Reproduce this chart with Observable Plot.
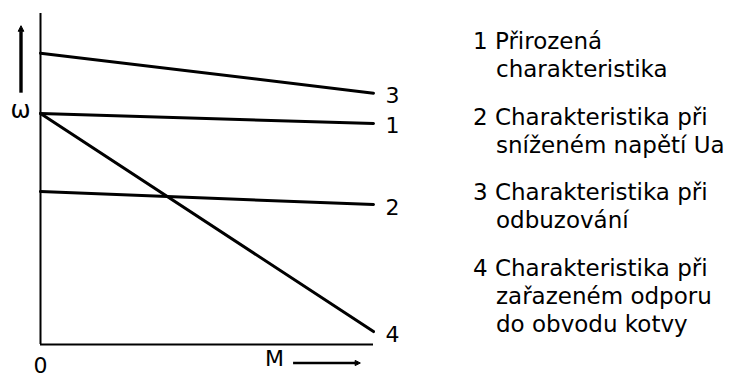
<!DOCTYPE html>
<html>
<head>
<meta charset="utf-8">
<script src="https://cdn.jsdelivr.net/npm/d3@7"></script>
<script src="https://cdn.jsdelivr.net/npm/@observablehq/plot@0.6"></script>
<style>
  body { margin: 0; background: #fff; }
  #chart { position: relative; width: 736px; height: 376px; font-family: "DejaVu Sans", sans-serif; color: #000; }
  #chart svg { position: absolute; left: 0; top: 0; }
  #legend { position: absolute; left: 473px; top: 27px; font-size: 23px; line-height: 28.3px; }
  #legend .entry { margin-bottom: 19px; white-space: nowrap; }
  #legend .cont { padding-left: 23px; }
</style>
</head>
<body>
<div id="chart"><div id="legend"></div></div>
<script>
// Motor speed–torque characteristics (ω versus M), straight lines from M = 0 to M = max
const torque = [0, 1];
const curveIds = ["1", "2", "3", "4"];
const omegaNoLoad = [1.0, 0.662, 1.261, 1.0];
const omegaFullLoad = [0.957, 0.606, 1.088, 0.056];
const omegaAxisTop = 1.433;
const xTickLabels = ["0"];
const xAxisLabel = "M";
const yAxisLabel = "ω";
const legendLines = [
  ["1 Přirozená", "charakteristika"],
  ["2 Charakteristika při", "sníženém napětí Ua"],
  ["3 Charakteristika při", "odbuzování"],
  ["4 Charakteristika při", "zařazeném odporu", "do obvodu kotvy"]
];

const points = curveIds.flatMap((id, i) => [
  {id, M: torque[0], w: omegaNoLoad[i]},
  {id, M: torque[1], w: omegaFullLoad[i]}
]);
const ends = points.filter(d => d.M === torque[1]);

const plot = Plot.plot({
  width: 736,
  height: 376,
  marginLeft: 40,
  marginRight: 363,
  marginTop: 13,
  marginBottom: 32,
  x: {domain: [torque[0], torque[1]], axis: null},
  y: {domain: [0, omegaAxisTop], axis: null},
  style: {fontFamily: "DejaVu Sans", background: "transparent", color: "#000"},
  marks: [
    // axes
    Plot.ruleX([0], {y1: 0, y2: omegaAxisTop, stroke: "#000", strokeWidth: 2}),
    Plot.ruleY([0], {x1: torque[0], x2: torque[1], stroke: "#000", strokeWidth: 2}),
    // characteristics
    Plot.line(points, {x: "M", y: "w", z: "id", stroke: "#000", strokeWidth: 3}),
    // curve numbers at the right ends
    Plot.text(ends, {x: "M", y: "w", text: "id", dx: 12, dy: 3, textAnchor: "start", fontSize: 22, fill: "#000"}),
    // tick label at the origin
    Plot.text(xTickLabels, {x: () => 0, y: () => 0, text: d => d, dy: 21, fontSize: 22, fill: "#000"}),
    // torque axis label
    Plot.text([xAxisLabel], {frameAnchor: "bottom-right", text: d => d, textAnchor: "middle", dx: -99, dy: 21, fontSize: 22, fill: "#000"}),
    // speed axis label
    Plot.text([yAxisLabel], {frameAnchor: "left", text: d => d, textAnchor: "middle", dx: -20, dy: -69, fontSize: 24, fill: "#000"})
  ]
});

document.getElementById("chart").appendChild(plot);

// direction arrows next to the axis labels
const svg = d3.select(plot);
const xs = plot.scale("x"), ys = plot.scale("y");
const x0 = xs.apply(0), y0 = ys.apply(0);

function arrow(x1, y1, x2, y2, w, head) {
  const dx = x2 - x1, dy = y2 - y1, len = Math.hypot(dx, dy);
  const ux = dx / len, uy = dy / len;
  const bx = x2 - ux * head * 2, by = y2 - uy * head * 2;
  svg.append("line")
    .attr("x1", x1).attr("y1", y1).attr("x2", bx).attr("y2", by)
    .attr("stroke", "#000").attr("stroke-width", w);
  svg.append("path")
    .attr("d", `M${x2},${y2}L${bx - uy * head},${by + ux * head}L${bx + uy * head},${by - ux * head}Z`)
    .attr("fill", "#000").attr("stroke", "#000").attr("stroke-width", 1).attr("stroke-linejoin", "round");
}
arrow(xs.apply(0.76), y0 + 19, xs.apply(0.962), y0 + 19, 2.4, 2.6);
arrow(x0 - 19, ys.apply(1.088), x0 - 19, ys.apply(1.378), 3.4, 2.8);

// legend
const legend = d3.select("#legend");
legendLines.forEach(lines => {
  const entry = legend.append("div").attr("class", "entry");
  lines.forEach((t, j) => entry.append("div").attr("class", j ? "cont" : null).text(t));
});
</script>
</body>
</html>
